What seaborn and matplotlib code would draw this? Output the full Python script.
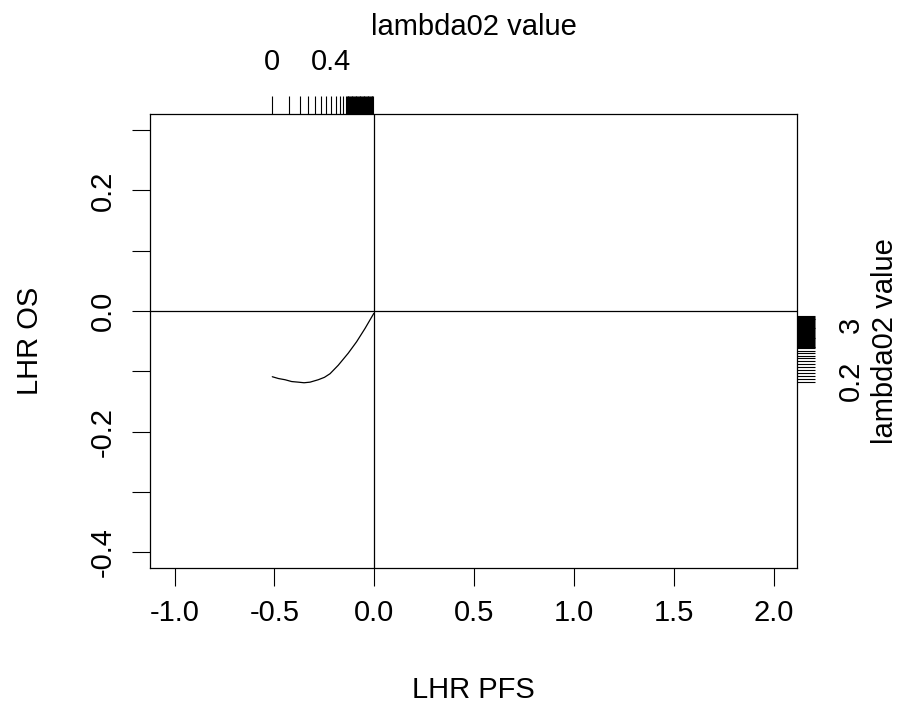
import matplotlib
matplotlib.use("Agg")
import matplotlib.pyplot as plt
import seaborn as sns
import pandas as pd

# ---- data ----
curve_x = [-0.511, -0.480, -0.447, -0.414, -0.381, -0.352, -0.322, -0.281, -0.250,
           -0.222, -0.181, -0.131, -0.089, -0.047, -0.003]
curve_y = [-0.109, -0.112, -0.114, -0.117, -0.118, -0.119, -0.118, -0.114, -0.110,
           -0.104, -0.090, -0.070, -0.051, -0.029, -0.004]

top_rug_x = [-0.513, -0.427, -0.372, -0.332, -0.297, -0.267, -0.242, -0.217, -0.192,
             -0.172, -0.157,
             -0.142, -0.138, -0.134, -0.130, -0.126, -0.122, -0.118, -0.114, -0.110,
             -0.106, -0.102, -0.098, -0.094, -0.090, -0.086, -0.082, -0.078, -0.074,
             -0.070, -0.066, -0.062, -0.058, -0.054, -0.050, -0.046, -0.042, -0.038,
             -0.034, -0.030, -0.026, -0.022, -0.018, -0.014, -0.010, -0.006]
top_label_x = [-0.513, -0.217]
top_labels = ["0", "0.4"]

right_rug_y = [-0.0080, -0.0095, -0.0110, -0.0125, -0.0140, -0.0155, -0.0170, -0.0185,
               -0.0200, -0.0215, -0.0230, -0.0245, -0.0260, -0.0275, -0.0290, -0.0305,
               -0.0320, -0.0335, -0.0350, -0.0365, -0.0380, -0.0395, -0.0410, -0.0425,
               -0.0440, -0.0455, -0.0470, -0.0485, -0.0500, -0.0515, -0.0530, -0.0545,
               -0.0560, -0.0575, -0.0590, -0.0605, -0.0620,
               -0.066, -0.070, -0.075, -0.078, -0.083, -0.088, -0.093, -0.098, -0.103,
               -0.108, -0.113, -0.118]
right_label_y = [-0.023, -0.116]
right_labels = ["3", "0.2"]

x_ticks = [-1.0, -0.5, 0.0, 0.5, 1.0, 1.5, 2.0]
x_tick_labels = ["-1.0", "-0.5", "0.0", "0.5", "1.0", "1.5", "2.0"]
y_ticks = [-0.4, -0.3, -0.2, -0.1, 0.0, 0.1, 0.2, 0.3]
y_tick_labels = ["-0.4", "", "-0.2", "", "0.0", "", "0.2", ""]

x_lim = (-1.123, 2.115)
y_lim = (-0.4262, 0.3267)

# ---- style ----
sns.set_theme(style="white")
plt.rcParams['font.family'] = ['Liberation Sans', 'DejaVu Sans']
FS = 21
TL = 13

fig = plt.figure(figsize=(9.07, 7.10), dpi=100)
ax = fig.add_axes([150 / 907, 1 - 568 / 710, 647 / 907, 454 / 710])

df = pd.DataFrame({"x": curve_x, "y": curve_y})
sns.lineplot(data=df, x="x", y="y", sort=False, color="black", linewidth=0.9, ax=ax)

ax.axvline(0, color="black", linewidth=0.9)
ax.axhline(0, color="black", linewidth=0.9)

ax.set_xlim(*x_lim)
ax.set_ylim(*y_lim)
for s in ax.spines.values():
    s.set_visible(True)
    s.set_color("black")
    s.set_linewidth(0.9)

ax.set_xticks(x_ticks, labels=x_tick_labels)
ax.set_yticks(y_ticks, labels=y_tick_labels)
ax.tick_params(axis="both", which="major", direction="out", length=TL, width=0.8,
               color="black", labelsize=FS, labelcolor="black")
ax.tick_params(axis="x", pad=9, bottom=True)
ax.tick_params(axis="y", pad=11, left=True, labelrotation=90)
for lab in ax.get_yticklabels():
    lab.set_va("center")

ax.set_xlabel("LHR PFS", fontsize=FS, color="black")
ax.set_ylabel("LHR OS", fontsize=FS, color="black")
ax.xaxis.set_label_coords(0.5, (568 - 690) / 454, transform=ax.transAxes)
ax.xaxis.label.set_va("center")
ax.yaxis.set_label_coords((30 - 150) / 647, 0.5, transform=ax.transAxes)
ax.yaxis.label.set_va("center")

# top rug axis
top = ax.secondary_xaxis("top")
top.xaxis.remove_overlapping_locs = False
top.set_xticks(top_rug_x, labels=[""] * len(top_rug_x))
top.set_xticks(top_label_x, labels=top_labels, minor=True)
top.tick_params(which="major", direction="out", length=TL, width=0.8, color="black")
top.tick_params(which="minor", length=0, pad=27, labelsize=FS, labelcolor="black")
top.spines["top"].set_visible(False)
top.set_xlabel("lambda02 value", fontsize=FS, color="black")
top.xaxis.set_label_coords(0.5, (568 - 27) / 454, transform=ax.transAxes)
top.xaxis.label.set_va("center")

# right rug axis
right = ax.secondary_yaxis("right")
right.yaxis.remove_overlapping_locs = False
right.set_yticks(right_rug_y, labels=[""] * len(right_rug_y))
right.set_yticks(right_label_y, labels=right_labels, minor=True)
right.tick_params(which="major", direction="out", length=TL, width=0.8, color="black")
right.tick_params(which="minor", length=0, pad=29, labelsize=FS, labelcolor="black",
                  labelrotation=90)
for lab in right.get_yticklabels(minor=True):
    lab.set_va("center")
right.spines["right"].set_visible(False)
right.set_ylabel("lambda02 value", fontsize=FS, color="black", rotation=90)
right.yaxis.set_label_coords((885 - 150) / 647, 0.5, transform=ax.transAxes)
right.yaxis.label.set_va("center")

fig.savefig("out.png", dpi=100, facecolor="white")
